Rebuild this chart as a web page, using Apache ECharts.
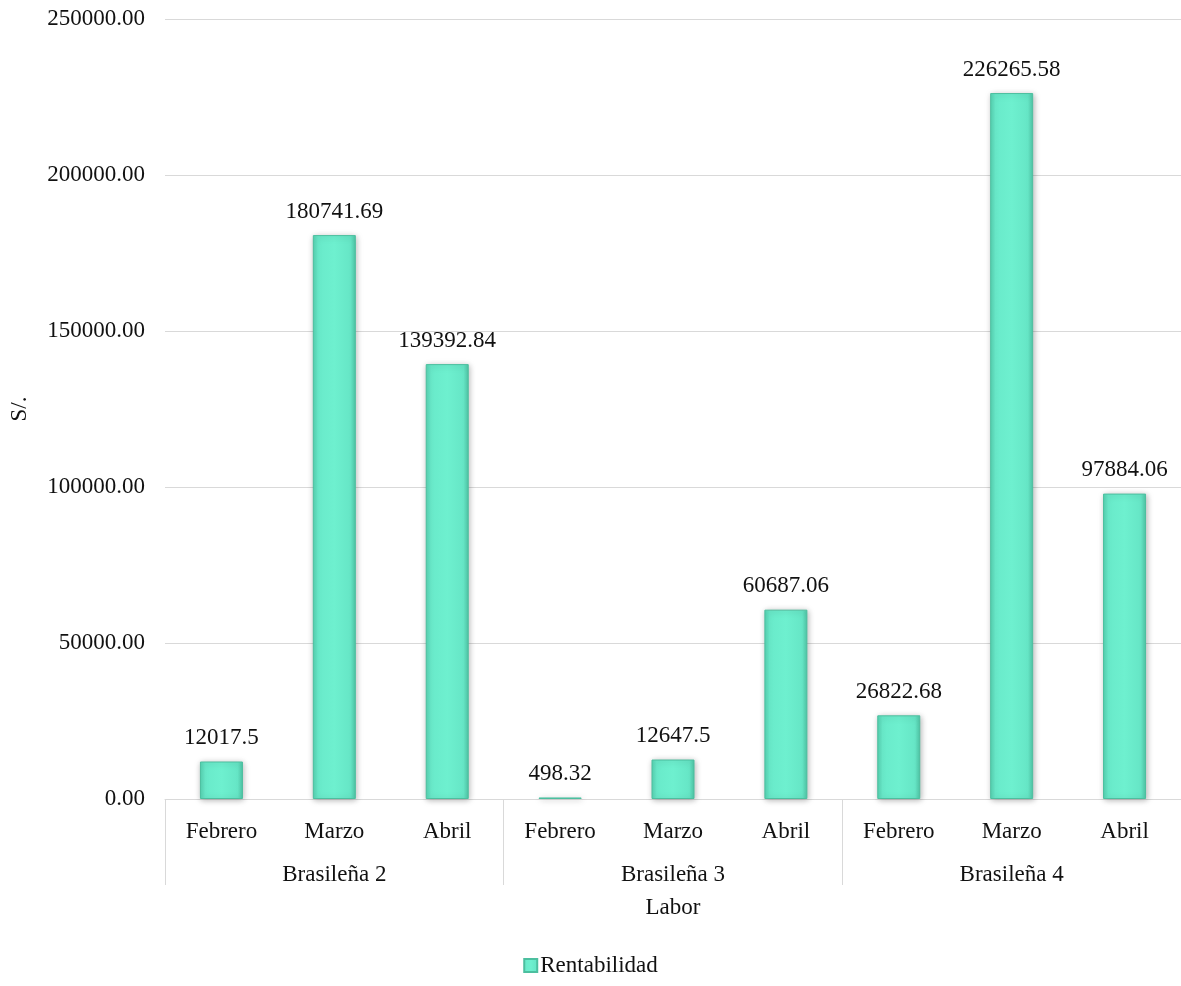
<!DOCTYPE html>
<html>
<head>
<meta charset="utf-8">
<script src="https://cdn.jsdelivr.net/npm/echarts@6/dist/echarts.min.js"></script>
<style>
  html, body { margin: 0; padding: 0; background: #fff; }
  #chart { width: 1181px; height: 986px; }
</style>
</head>
<body>
<div id="chart"></div>
<script>
// Months per variety and the variety groups they belong to
const months = ['Febrero', 'Marzo', 'Abril', 'Febrero', 'Marzo', 'Abril', 'Febrero', 'Marzo', 'Abril'];
const groups = ['Brasileña 2', 'Brasileña 3', 'Brasileña 4'];
// Rentabilidad (S/.) per month
const rentabilidad = [12017.5, 180741.69, 139392.84, 498.32, 12647.5, 60687.06, 26822.68, 226265.58, 97884.06];
const yTicks = { min: 0, max: 250000, interval: 50000 };

const FONT = '"Liberation Serif", "Times New Roman", serif';
const TEXT = '#111';
const FS = 23;

const barFill = new echarts.graphic.LinearGradient(0, 0, 1, 0, [
  { offset: 0, color: '#55d2b1' },
  { offset: 0.12, color: '#69eaca' },
  { offset: 0.5, color: '#6ef0cf' },
  { offset: 0.88, color: '#66e6c6' },
  { offset: 1, color: '#4fc6a6' }
]);

const chart = echarts.init(document.getElementById('chart'));
chart.setOption({
  animation: false,
  textStyle: { fontFamily: FONT, color: TEXT },
  grid: { left: 163, right: 0, top: 19, bottom: 187 },
  legend: {
    bottom: 4,
    left: 'center',
    icon: 'rect',
    itemWidth: 13,
    itemHeight: 13,
    itemGap: 4,
    textStyle: { fontFamily: FONT, fontSize: FS, color: TEXT, padding: [0, 0, 0, -2] },
    data: ['Rentabilidad']
  },
  xAxis: [
    {
      type: 'category',
      data: months,
      position: 'bottom',
      axisLine: { show: true, lineStyle: { color: '#d9d9d9', width: 1 } },
      axisTick: { show: false },
      axisLabel: { interval: 0, margin: 21, fontFamily: FONT, fontSize: FS, color: TEXT }
    },
    {
      type: 'category',
      data: groups,
      position: 'bottom',
      axisLine: { show: false },
      axisTick: { show: true, length: 86, interval: 0, lineStyle: { color: '#d9d9d9' } },
      axisLabel: { interval: 0, margin: 64, fontFamily: FONT, fontSize: FS, color: TEXT },
      name: 'Labor',
      nameLocation: 'middle',
      nameGap: 97,
      nameTextStyle: { fontFamily: FONT, fontSize: FS, color: TEXT }
    }
  ],
  yAxis: {
    type: 'value',
    min: yTicks.min,
    max: yTicks.max,
    interval: yTicks.interval,
    name: 'S/.',
    nameLocation: 'middle',
    nameGap: 134,
    nameTextStyle: { fontFamily: FONT, fontSize: FS, color: TEXT },
    axisLine: { show: false },
    axisTick: { show: false },
    axisLabel: {
      margin: 20,
      fontFamily: FONT,
      fontSize: FS,
      color: TEXT,
      formatter: v => v.toFixed(2)
    },
    splitLine: { lineStyle: { color: '#d9d9d9', width: 1 } }
  },
  series: [
    {
      name: 'Rentabilidad',
      type: 'bar',
      xAxisIndex: 0,
      data: rentabilidad,
      barWidth: 43,
      itemStyle: {
        color: barFill,
        borderColor: '#4cbf9f',
        borderWidth: 1,
        shadowColor: 'rgba(0,0,0,0.28)',
        shadowBlur: 6,
        shadowOffsetX: 1,
        shadowOffsetY: 1
      },
      label: {
        show: true,
        position: 'top',
        distance: 12,
        fontFamily: FONT,
        fontSize: FS,
        color: TEXT,
        formatter: p => String(p.value)
      }
    }
  ]
});
</script>
</body>
</html>
